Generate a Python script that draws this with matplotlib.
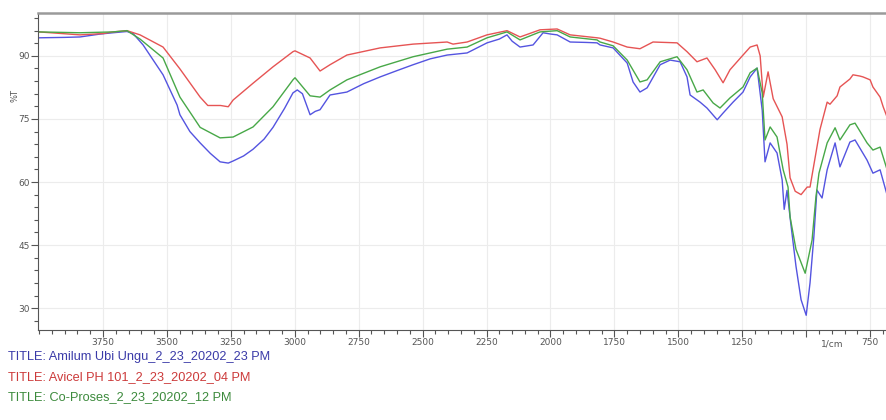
import matplotlib
matplotlib.use("Agg")
import matplotlib.pyplot as plt
from matplotlib.ticker import MultipleLocator, FixedLocator

# FTIR spectra (wavenumber 1/cm, %T)
wn_amilum = [4000, 3900, 3840, 3760, 3711, 3656, 3632, 3593, 3515, 3460, 3449, 3410, 3370, 3330,
             3292, 3260, 3241, 3200, 3163, 3120, 3085, 3040, 3007, 2990, 2970, 2940, 2920, 2901,
             2862, 2796, 2730, 2666, 2600, 2537, 2470, 2404, 2326, 2248, 2200, 2170, 2150, 2119,
             2068, 2029, 2000, 1974, 1923, 1860, 1818, 1806, 1755, 1700, 1677, 1650, 1622, 1571,
             1532, 1493, 1466, 1454, 1415, 1388, 1348, 1325, 1286, 1247, 1219, 1192, 1172, 1161,
             1141, 1114, 1094, 1086, 1075, 1060, 1040, 1020, 1000, 985, 970, 958, 938, 918, 887,
             868, 829, 809, 762, 739, 711, 684]
t_amilum = [94.3, 94.4, 94.5, 95.2, 95.5, 95.8, 95.3, 92.6, 85.5, 78.3, 76.0, 72.0, 69.3, 66.8,
            64.8, 64.5, 65.0, 66.2, 67.8, 70.2, 73.0, 77.5, 81.2, 81.9, 81.0, 76.0, 76.8, 77.2,
            80.7, 81.4, 83.4, 85.0, 86.5, 87.9, 89.3, 90.2, 90.7, 93.1, 94.0, 95.0, 93.5, 92.1,
            92.6, 95.5, 95.2, 95.0, 93.3, 93.2, 93.1, 92.6, 91.9, 88.3, 83.8, 81.4, 82.4, 87.9,
            89.0, 88.6, 85.0, 80.7, 79.0, 77.6, 74.8, 76.4, 79.0, 81.4, 85.0, 87.1, 77.1, 64.8,
            69.3, 66.9, 60.5, 53.5, 58.0, 50.0, 40.0, 32.0, 28.3, 36.0, 47.0, 58.1, 56.2, 62.9,
            69.3, 63.6, 69.5, 70.0, 65.2, 62.1, 62.9, 57.0]

wn_avicel = [4000, 3840, 3750, 3711, 3656, 3605, 3515, 3449, 3370, 3340, 3290, 3260, 3241, 3163,
             3085, 3007, 2999, 2940, 2901, 2862, 2796, 2666, 2537, 2404, 2381, 2326, 2248, 2170,
             2119, 2041, 1974, 1923, 1818, 1806, 1755, 1700, 1650, 1599, 1505, 1466, 1427, 1388,
             1356, 1325, 1298, 1247, 1219, 1192, 1180, 1168, 1149, 1129, 1094, 1075, 1063, 1043,
             1020, 996, 985, 946, 918, 907, 879, 868, 829, 817, 790, 778, 750, 739, 711, 699, 684]
t_avicel = [95.7, 95.0, 95.3, 95.7, 96.0, 95.0, 92.1, 86.9, 80.2, 78.2, 78.2, 77.9, 79.5, 83.5,
            87.4, 91.0, 91.2, 89.5, 86.4, 87.9, 90.2, 91.9, 92.8, 93.3, 92.8, 93.3, 95.0, 96.0,
            94.5, 96.2, 96.4, 95.0, 94.3, 94.2, 93.3, 92.1, 91.7, 93.3, 93.1, 91.0, 88.6, 89.5,
            86.7, 83.6, 86.7, 90.2, 92.1, 92.6, 90.0, 80.2, 86.2, 79.8, 75.5, 69.0, 61.0, 57.8,
            57.0, 58.8, 58.8, 72.5, 79.0, 78.5, 80.5, 82.6, 84.5, 85.5, 85.2, 85.0, 84.3, 82.6,
            80.2, 77.9, 75.5]

wn_coproses = [4000, 3840, 3711, 3656, 3605, 3515, 3449, 3370, 3292, 3241, 3163, 3085, 3007, 2999,
               2940, 2901, 2862, 2796, 2666, 2537, 2404, 2326, 2248, 2170, 2119, 2041, 1974, 1923,
               1818, 1806, 1755, 1700, 1650, 1622, 1571, 1505, 1466, 1427, 1403, 1364, 1337, 1298,
               1247, 1219, 1192, 1172, 1161, 1141, 1114, 1090, 1071, 1063, 1040, 1004, 977, 962,
               950, 918, 887, 868, 829, 809, 762, 739, 711, 684]
t_coproses = [95.7, 95.5, 95.7, 96.0, 94.0, 89.5, 80.2, 73.0, 70.5, 70.7, 73.1, 77.9, 84.3, 84.8,
              80.5, 80.2, 81.9, 84.3, 87.4, 89.8, 91.6, 92.1, 94.3, 95.7, 93.8, 95.7, 96.0, 94.5,
              93.8, 93.3, 92.4, 89.0, 83.8, 84.3, 88.6, 89.8, 86.7, 81.4, 81.9, 78.8, 77.6, 80.0,
              82.6, 86.0, 87.1, 81.2, 70.0, 73.1, 70.7, 62.9, 58.8, 51.7, 44.0, 38.3, 46.2, 56.4,
              62.1, 69.3, 72.9, 70.0, 73.6, 74.0, 69.3, 67.6, 68.3, 63.0]

titles = ["TITLE: Amilum Ubi Ungu_2_23_20202_23 PM",
          "TITLE: Avicel PH 101_2_23_20202_04 PM",
          "TITLE: Co-Proses_2_23_20202_12 PM"]
line_colors = ["#5454e0", "#e65454", "#48a848"]
text_colors = ["#3a3aa8", "#cc3a3a", "#3c8a3c"]

fig = plt.figure(figsize=(8.87, 4.2), dpi=100)
ax = fig.add_axes([38 / 887, 1 - 330 / 420, 1 - 38 / 887, (330 - 13) / 420])

ax.plot(wn_amilum, t_amilum, color=line_colors[0], lw=1.0)
ax.plot(wn_avicel, t_avicel, color=line_colors[1], lw=1.0)
ax.plot(wn_coproses, t_coproses, color=line_colors[2], lw=1.0)

ax.set_xlim(4004, 684)
ax.set_ylim(24.8, 100.2)

# ticks
ax.xaxis.set_major_locator(FixedLocator(list(range(3750, 700, -250))))
ax.xaxis.set_minor_locator(MultipleLocator(50))
ax.yaxis.set_major_locator(FixedLocator([30, 45, 60, 75, 90]))
ax.yaxis.set_minor_locator(MultipleLocator(3))
ax.set_xticklabels([str(v) if v != 1000 else "" for v in range(3750, 700, -250)])
ax.tick_params(axis="both", which="major", length=5, width=0.8, color="#555555",
               labelsize=6.5, labelcolor="#555555")
ax.tick_params(axis="both", which="minor", length=3, width=0.8, color="#555555")
ax.tick_params(axis="x", pad=1)
ax.tick_params(axis="y", pad=1)
ax.grid(True, which="major", color="#ececec", lw=0.8)
ax.set_axisbelow(True)

ax.spines["right"].set_visible(False)
ax.spines["top"].set_color("#9a9a9a")
ax.spines["top"].set_linewidth(1.8)
ax.spines["left"].set_color("#555555")
ax.spines["bottom"].set_color("#555555")

ax.text(900, -0.03, "1/cm", transform=ax.get_xaxis_transform(), ha="center", va="top",
        fontsize=6.5, color="#555555")
fig.text(15 / 887, 1 - 95 / 420, "%T", rotation=90, ha="center", va="center",
         fontsize=6, color="#555555")

# titles under the plot
for i, (txt, col) in enumerate(zip(titles, text_colors)):
    fig.text(8 / 887, 1 - (357 + 20 * i) / 420, txt, color=col, fontsize=9.2,
             family="Liberation Sans", ha="left", va="center")

fig.savefig("out.png", dpi=100)
